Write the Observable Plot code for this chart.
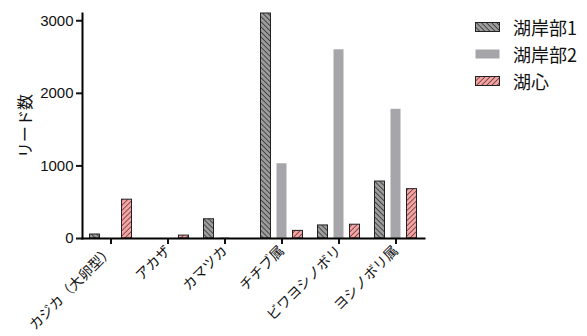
<!DOCTYPE html>
<html>
<head>
<meta charset="utf-8">
<script src="https://cdn.jsdelivr.net/npm/d3@7"></script>
<script src="https://cdn.jsdelivr.net/npm/@observablehq/plot@0.6"></script>
<style>
  html, body { margin: 0; padding: 0; background: #fff; }
  #wrap { display: flex; align-items: flex-start; width: 587px; height: 336px; font-family: "Liberation Sans", Arial, "Noto Sans CJK JP", sans-serif; }
  #legend { padding-top: 13px; padding-left: 45px; }
  .item { display: flex; align-items: center; height: 27px; font-size: 18px; font-family: "Noto Sans CJK JP", sans-serif; color: #111; }
  .item svg { margin-right: 13px; }
</style>
</head>
<body>
<div id="wrap"><div id="chart"></div><div id="legend"></div></div>
<script>
// Fish species (x axis) and read counts per sampling site
const species = ["カジカ（大卵型）", "アカザ", "カマツカ", "チチブ属", "ビワヨシノボリ", "ヨシノボリ属"];
const sites = ["湖岸部1", "湖岸部2", "湖心"];
const shore1 = [55, 0, 265, 3100, 180, 785];
const shore2 = [0, 0, 10, 1030, 2600, 1780];
const center = [535, 40, 0, 105, 190, 680];
const yTicks = [0, 1000, 2000, 3000];

const seriesValues = [shore1, shore2, center];
const rows = sites.flatMap((site, s) => species.map((sp, i) => ({species: sp, site, reads: seriesValues[s][i]})));

// Fill styles for each site: hatched gray, plain gray, hatched pink
const fills = {"湖岸部1": "url(#hatch-back)", "湖岸部2": "#a6a6aa", "湖心": "url(#hatch-fwd)"};
const strokes = {"湖岸部1": "#222", "湖岸部2": "none", "湖心": "#222"};
const offsets = {"湖岸部1": -16, "湖岸部2": 0, "湖心": 16};

const patternDefs = `
  <pattern id="hatch-back" patternUnits="userSpaceOnUse" width="3.6" height="4" patternTransform="rotate(-45)">
    <rect width="3.6" height="4" fill="#9c9c9c"/><line x1="0" y1="0" x2="0" y2="4" stroke="#222" stroke-width="1.4"/>
  </pattern>
  <pattern id="hatch-fwd" patternUnits="userSpaceOnUse" width="3.6" height="4" patternTransform="rotate(45)">
    <rect width="3.6" height="4" fill="#f7a3a3"/><line x1="0" y1="0" x2="0" y2="4" stroke="#3a2424" stroke-width="1.3"/>
  </pattern>`;

const barMarks = sites.map(site => Plot.barY(rows.filter(d => d.site === site), {
  x: "species", y: "reads",
  fill: fills[site], stroke: strokes[site], strokeWidth: 1,
  insetLeft: 23.5, insetRight: 23.5, dx: offsets[site]
}));

const chart = Plot.plot({
  width: 430, height: 336,
  marginLeft: 82, marginRight: 6, marginTop: 13, marginBottom: 98,
  style: {fontFamily: "\"Liberation Sans\", Arial, \"Noto Sans CJK JP\", sans-serif", color: "#111", background: "#fff"},
  x: {domain: species, padding: 0},
  y: {domain: [0, 3100]},
  marks: [
    ...barMarks,
    Plot.axisY({ticks: yTicks, tickSize: 6, tickPadding: 3, fontSize: 15, tickFormat: d => String(d),
      label: "リード数", labelAnchor: "center", labelArrow: "none", labelOffset: 63}),
    Plot.axisX({tickSize: 6, tickPadding: 4, tickRotate: -45, fontSize: 14, label: null,
      fontFamily: "\"Noto Sans CJK JP\", sans-serif"}),
    Plot.frame({anchor: "left", strokeWidth: 2, stroke: "#000"}),
    Plot.frame({anchor: "bottom", strokeWidth: 2, stroke: "#000"})
  ]
});

const defs = document.createElementNS("http://www.w3.org/2000/svg", "defs");
defs.innerHTML = patternDefs;
chart.insertBefore(defs, chart.firstChild);
chart.querySelectorAll("g[aria-label='y-axis tick'], g[aria-label='x-axis tick']").forEach(g => g.setAttribute("stroke-width", 2));
const yLabel = chart.querySelector("g[aria-label='y-axis label'] text");
if (yLabel) { yLabel.setAttribute("font-size", 16); yLabel.setAttribute("font-family", "\"Noto Sans CJK JP\", sans-serif"); }
document.getElementById("chart").appendChild(chart);

// Legend beside the plot, using the same fills
const legend = document.getElementById("legend");
sites.forEach(site => {
  const item = document.createElement("div");
  item.className = "item";
  item.innerHTML = `<svg width="25" height="10"><defs>${patternDefs}</defs>
    <rect x="0.5" y="0.5" width="24" height="9" fill="${fills[site]}" stroke="${strokes[site] === "none" ? "none" : "#222"}"/></svg><span>${site}</span>`;
  legend.appendChild(item);
});
</script>
</body>
</html>
